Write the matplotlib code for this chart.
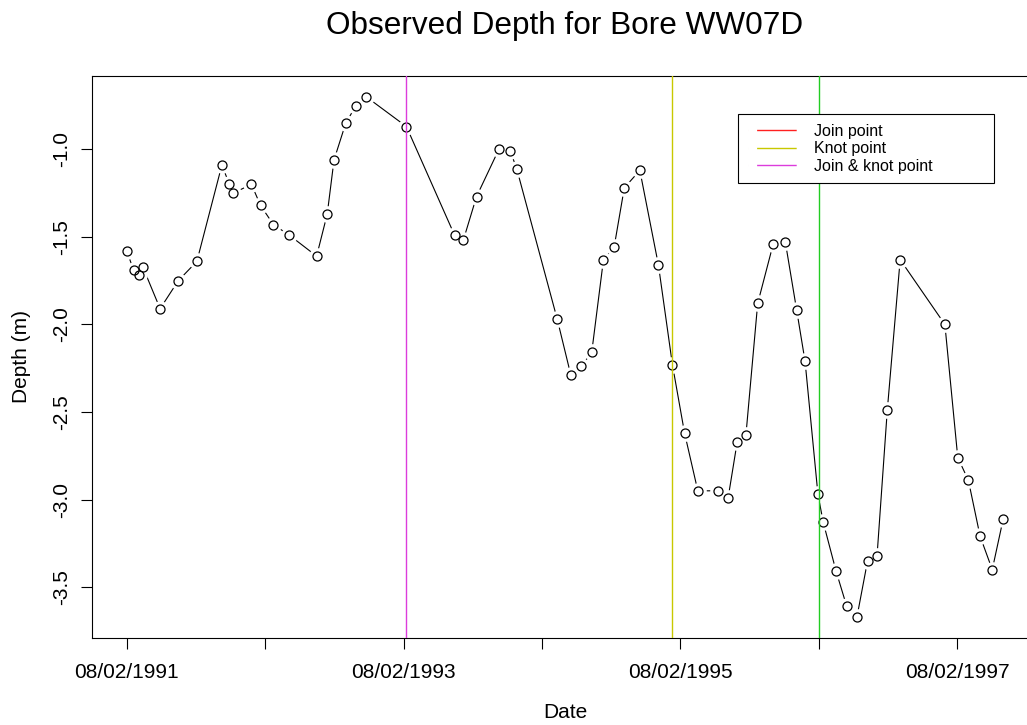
import numpy as np
import pandas as pd
import matplotlib
matplotlib.use('Agg')
import matplotlib.pyplot as plt
from matplotlib.lines import Line2D

plt.rcParams['font.family'] = ['Liberation Sans', 'DejaVu Sans']

# ---------------- data ----------------
obs_dates = ['1991-02-08', '1991-02-26', '1991-03-12', '1991-03-22', '1991-05-07',
             '1991-06-24', '1991-08-12', '1991-10-17', '1991-11-06', '1991-11-16',
             '1992-01-03', '1992-01-27', '1992-03-01', '1992-04-12', '1992-06-23',
             '1992-07-21', '1992-08-08', '1992-09-08', '1992-10-05', '1992-11-01',
             '1993-02-15', '1993-06-22', '1993-07-15', '1993-08-19', '1993-10-17',
             '1993-11-16', '1993-12-03', '1994-03-20', '1994-04-25', '1994-05-22',
             '1994-06-19', '1994-07-20', '1994-08-17', '1994-09-13', '1994-10-24',
             '1994-12-12', '1995-01-18', '1995-02-19', '1995-03-26', '1995-05-17',
             '1995-06-14', '1995-07-08', '1995-07-31', '1995-08-31', '1995-10-11',
             '1995-11-12', '1995-12-12', '1996-01-03', '1996-02-06', '1996-02-20',
             '1996-03-25', '1996-04-22', '1996-05-19', '1996-06-16', '1996-07-11',
             '1996-08-07', '1996-09-10', '1997-01-06', '1997-02-09', '1997-03-09',
             '1997-04-09', '1997-05-11', '1997-06-09']
depth = [-1.58, -1.69, -1.72, -1.67, -1.91,
         -1.75, -1.64, -1.09, -1.20, -1.25,
         -1.20, -1.32, -1.43, -1.49, -1.61,
         -1.37, -1.06, -0.85, -0.75, -0.70,
         -0.87, -1.49, -1.52, -1.27, -1.00,
         -1.01, -1.11, -1.97, -2.29, -2.24,
         -2.16, -1.63, -1.56, -1.22, -1.12,
         -1.66, -2.23, -2.62, -2.95, -2.95,
         -2.99, -2.67, -2.63, -1.88, -1.54,
         -1.53, -1.92, -2.21, -2.97, -3.13,
         -3.41, -3.61, -3.67, -3.35, -3.32,
         -2.49, -1.63, -2.00, -2.76, -2.89,
         -3.21, -3.40, -3.11]

tick_dates = ['1991-02-08', '1992-02-08', '1993-02-08', '1994-02-08',
              '1995-02-08', '1996-02-08', '1997-02-08']
tick_labels = ['08/02/1991', '', '08/02/1993', '', '08/02/1995', '', '08/02/1997']
y_ticks = [-1.0, -1.5, -2.0, -2.5, -3.0, -3.5]

knot_lines = ['1993-02-15', '1995-01-18', '1996-02-08']
knot_colors = ['#DC3CDC', '#C8C800', '#22CC22']

legend_labels = ['Join point', 'Knot point', 'Join & knot point']
legend_colors = ['#FF2020', '#C8C800', '#DC3CDC']

# ---------------- plot ----------------
W, H = 1027, 725
fig = plt.figure(figsize=(W / 100, H / 100), dpi=100)
ax = fig.add_axes([91.7 / W, (H - 637.7) / H, 946.6 / W, 561.7 / H])

x = pd.to_datetime(obs_dates)
ax.plot(x, depth, color='black', lw=0.8, zorder=2)
# R type="b": line stops short of each point
ax.plot(x, depth, ls='none', marker='o', ms=12, mfc='white', mec='none', zorder=2.5)
ax.plot(x, depth, ls='none', marker='o', ms=6.5, mfc='none', mec='black', mew=0.9, zorder=3)
ax.margins(x=0.04, y=0.04)

for d, c in zip(knot_lines, knot_colors):
    ax.axvline(pd.Timestamp(d), color=c, lw=1.0, zorder=4)

ax.set_xticks(pd.to_datetime(tick_dates))
ax.set_xticklabels(tick_labels)
ax.set_yticks(y_ticks)
ax.set_yticklabels(['%.1f' % v for v in y_ticks], rotation=90, va='center')
ax.tick_params(axis='both', direction='out', length=7.7, width=0.8,
               labelsize=15, colors='black')
ax.tick_params(axis='x', pad=10.5)
ax.tick_params(axis='y', pad=7)
for s in ax.spines.values():
    s.set_linewidth(0.8)

ax.set_xlabel('Date', fontsize=15)
ax.xaxis.set_label_coords(0.5, -(713 - 637.7) / 561.7)
ax.xaxis.label.set_va('center')
ax.set_ylabel('Depth (m)', fontsize=15)
ax.yaxis.set_label_coords(-(91.7 - 22) / 946.6, 0.5)
ax.yaxis.label.set_va('center')

ax.text(0.5, 1 + (76 - 26) / 561.7, 'Observed Depth for Bore WW07D',
        transform=ax.transAxes, ha='center', va='center', fontsize=22.7)

# leading gap in the dash pattern pushes the key line right, as in the R legend
handles = [Line2D([], [], color=c, lw=1.0, ls=(0, (0.01, 6.2, 28.5, 100)))
           for c in legend_colors]
leg = fig.legend(handles, legend_labels, loc='upper left', mode='expand',
                 bbox_to_anchor=(738.3 / W, 1 - 185 / H, 256 / W, 70.7 / H),
                 fontsize=11.5, frameon=True, fancybox=False,
                 edgecolor='black', framealpha=1, borderpad=0.6,
                 handlelength=3.05, handletextpad=1.1, labelspacing=0.15,
                 borderaxespad=0)
leg.get_frame().set_linewidth(0.8)
leg.set_zorder(5)

fig.savefig('out.png', dpi=100)
